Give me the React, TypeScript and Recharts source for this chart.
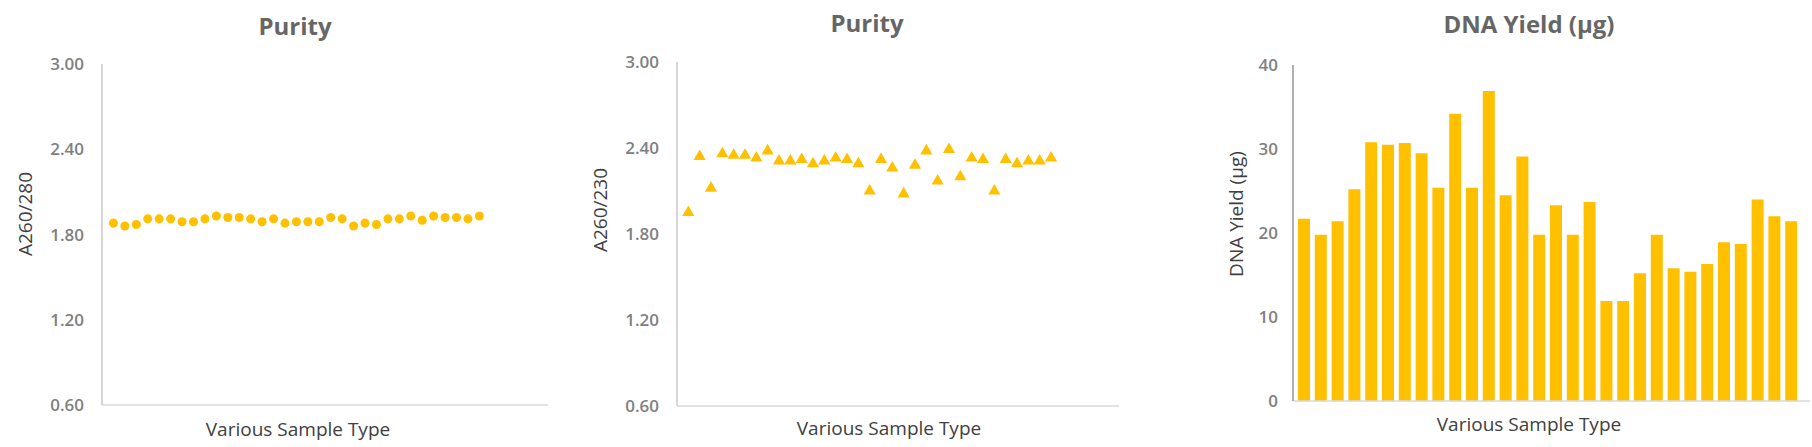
import { ScatterChart, Scatter, XAxis, YAxis, ZAxis, BarChart, Bar } from 'recharts';

const FONT = '"Open Sans", sans-serif';
const GOLD = '#FFC000';
const TICK_GREY = '#808080';
const LABEL_GREY = '#404040';
const TITLE_GREY = '#666666';

// A260/280 per sample (33 samples)
const a260280 = [
  1.88, 1.86, 1.87, 1.91, 1.91, 1.91, 1.89, 1.89, 1.91, 1.93, 1.92,
  1.92, 1.91, 1.89, 1.91, 1.88, 1.89, 1.89, 1.89, 1.92, 1.91, 1.86,
  1.88, 1.87, 1.91, 1.91, 1.93, 1.90, 1.93, 1.92, 1.92, 1.91, 1.93,
];

// A260/230 per sample (33 samples)
const a260230 = [
  1.95, 2.34, 2.12, 2.36, 2.35, 2.35, 2.33, 2.38, 2.31, 2.31, 2.32,
  2.29, 2.31, 2.33, 2.32, 2.29, 2.10, 2.32, 2.26, 2.08, 2.28, 2.38,
  2.17, 2.39, 2.20, 2.33, 2.32, 2.10, 2.32, 2.29, 2.31, 2.31, 2.33,
];

// DNA yield in µg (30 samples)
const dnaYield = [
  21.7, 19.8, 21.4, 25.2, 30.8, 30.5, 30.7, 29.5, 25.4, 34.2,
  25.4, 36.9, 24.5, 29.1, 19.8, 23.3, 19.8, 23.7, 11.9, 11.9,
  15.2, 19.8, 15.8, 15.4, 16.3, 18.9, 18.7, 24.0, 22.0, 21.4,
];

const purityTicks = [0.6, 1.2, 1.8, 2.4, 3.0];
const yieldTicks = [0, 10, 20, 30, 40];

const ratio280Data = a260280.map((value, i) => ({ sample: i + 1, value }));
const ratio230Data = a260230.map((value, i) => ({ sample: i + 1, value }));
const yieldData = dnaYield.map((value, i) => ({ sample: i + 1, value }));

const tickStyle = { fill: TICK_GREY, fontSize: 17, fontWeight: 600, fontFamily: FONT };

interface PurityChartProps {
  data: { sample: number; value: number }[];
  shape: 'circle' | 'triangle';
  size: number;
  width: number;
  yAxisWidth: number;
  top: number;
  right: number;
  xAxisHeight: number;
}

function PurityChart({ data, shape, size, width, yAxisWidth, top, right, xAxisHeight }: PurityChartProps) {
  return (
    <ScatterChart width={width} height={447} margin={{ top, right, bottom: 0, left: 0 }}>
      <XAxis
        type="number"
        dataKey="sample"
        domain={[0, 39]}
        tick={false}
        tickLine={false}
        height={xAxisHeight}
        axisLine={{ stroke: '#d9d9d9', strokeWidth: 1.5 }}
      />
      <YAxis
        type="number"
        dataKey="value"
        domain={[0.6, 3]}
        ticks={purityTicks}
        tickFormatter={(v: number) => v.toFixed(2)}
        width={yAxisWidth}
        tickLine={false}
        tickSize={0}
        tickMargin={18}
        axisLine={{ stroke: '#c8c8c8', strokeWidth: 1.5 }}
        tick={tickStyle}
      />
      <ZAxis range={[size, size]} />
      <Scatter data={data} fill={GOLD} shape={shape} isAnimationActive={false} />
    </ScatterChart>
  );
}

export default function App() {
  return (
    <div style={{ position: 'absolute', left: 0, top: 0, width: 1812, height: 447, background: '#fff', overflow: 'hidden' }}>
      <div style={{ position: 'absolute', left: 0, top: 0 }}>
        <PurityChart data={ratio280Data} shape="circle" size={96} width={590} yAxisWidth={102} top={64} right={42} xAxisHeight={42} />
      </div>
      <div style={{ position: 'absolute', left: 600, top: 0 }}>
        <PurityChart data={ratio230Data} shape="triangle" size={32} width={560} yAxisWidth={77} top={62} right={41} xAxisHeight={41} />
      </div>
      <div style={{ position: 'absolute', left: 1200, top: 0 }}>
        <BarChart width={612} height={447} data={yieldData} margin={{ top: 65, right: 2, bottom: 0, left: 0 }}>
          <XAxis
            dataKey="sample"
            tick={false}
            tickLine={false}
            height={46}
            padding={{ left: 3, right: 10 }}
            axisLine={{ stroke: '#d9d9d9', strokeWidth: 1.5 }}
          />
          <YAxis
            type="number"
            domain={[0, 40]}
            ticks={yieldTicks}
            width={93}
            tickLine={false}
            tickSize={0}
            tickMargin={15}
            axisLine={{ stroke: '#b0b0b0', strokeWidth: 2 }}
            tick={tickStyle}
          />
          <Bar dataKey="value" fill={GOLD} barSize={12} isAnimationActive={false} />
        </BarChart>
      </div>

      {/* titles and axis labels */}
      <svg width={1812} height={447} style={{ position: 'absolute', left: 0, top: 0, pointerEvents: 'none' }}>
        <g fontFamily={FONT} fontWeight={700} fontSize={24} fill={TITLE_GREY} textAnchor="middle">
          <text x={295} y={35}>Purity</text>
          <text x={867} y={32}>Purity</text>
          <text x={1529} y={33}>DNA Yield (µg)</text>
        </g>
        <g fontFamily={FONT} fontSize={19} fill={LABEL_GREY} textAnchor="middle">
          <text x={298} y={436}>Various Sample Type</text>
          <text x={889} y={435}>Various Sample Type</text>
          <text x={1529} y={431}>Various Sample Type</text>
          <text x={32} y={214} transform="rotate(-90 32 214)">A260/280</text>
          <text x={607} y={210} transform="rotate(-90 607 210)">A260/230</text>
          <text x={1243} y={214} transform="rotate(-90 1243 214)">DNA Yield (µg)</text>
        </g>
      </svg>
    </div>
  );
}
